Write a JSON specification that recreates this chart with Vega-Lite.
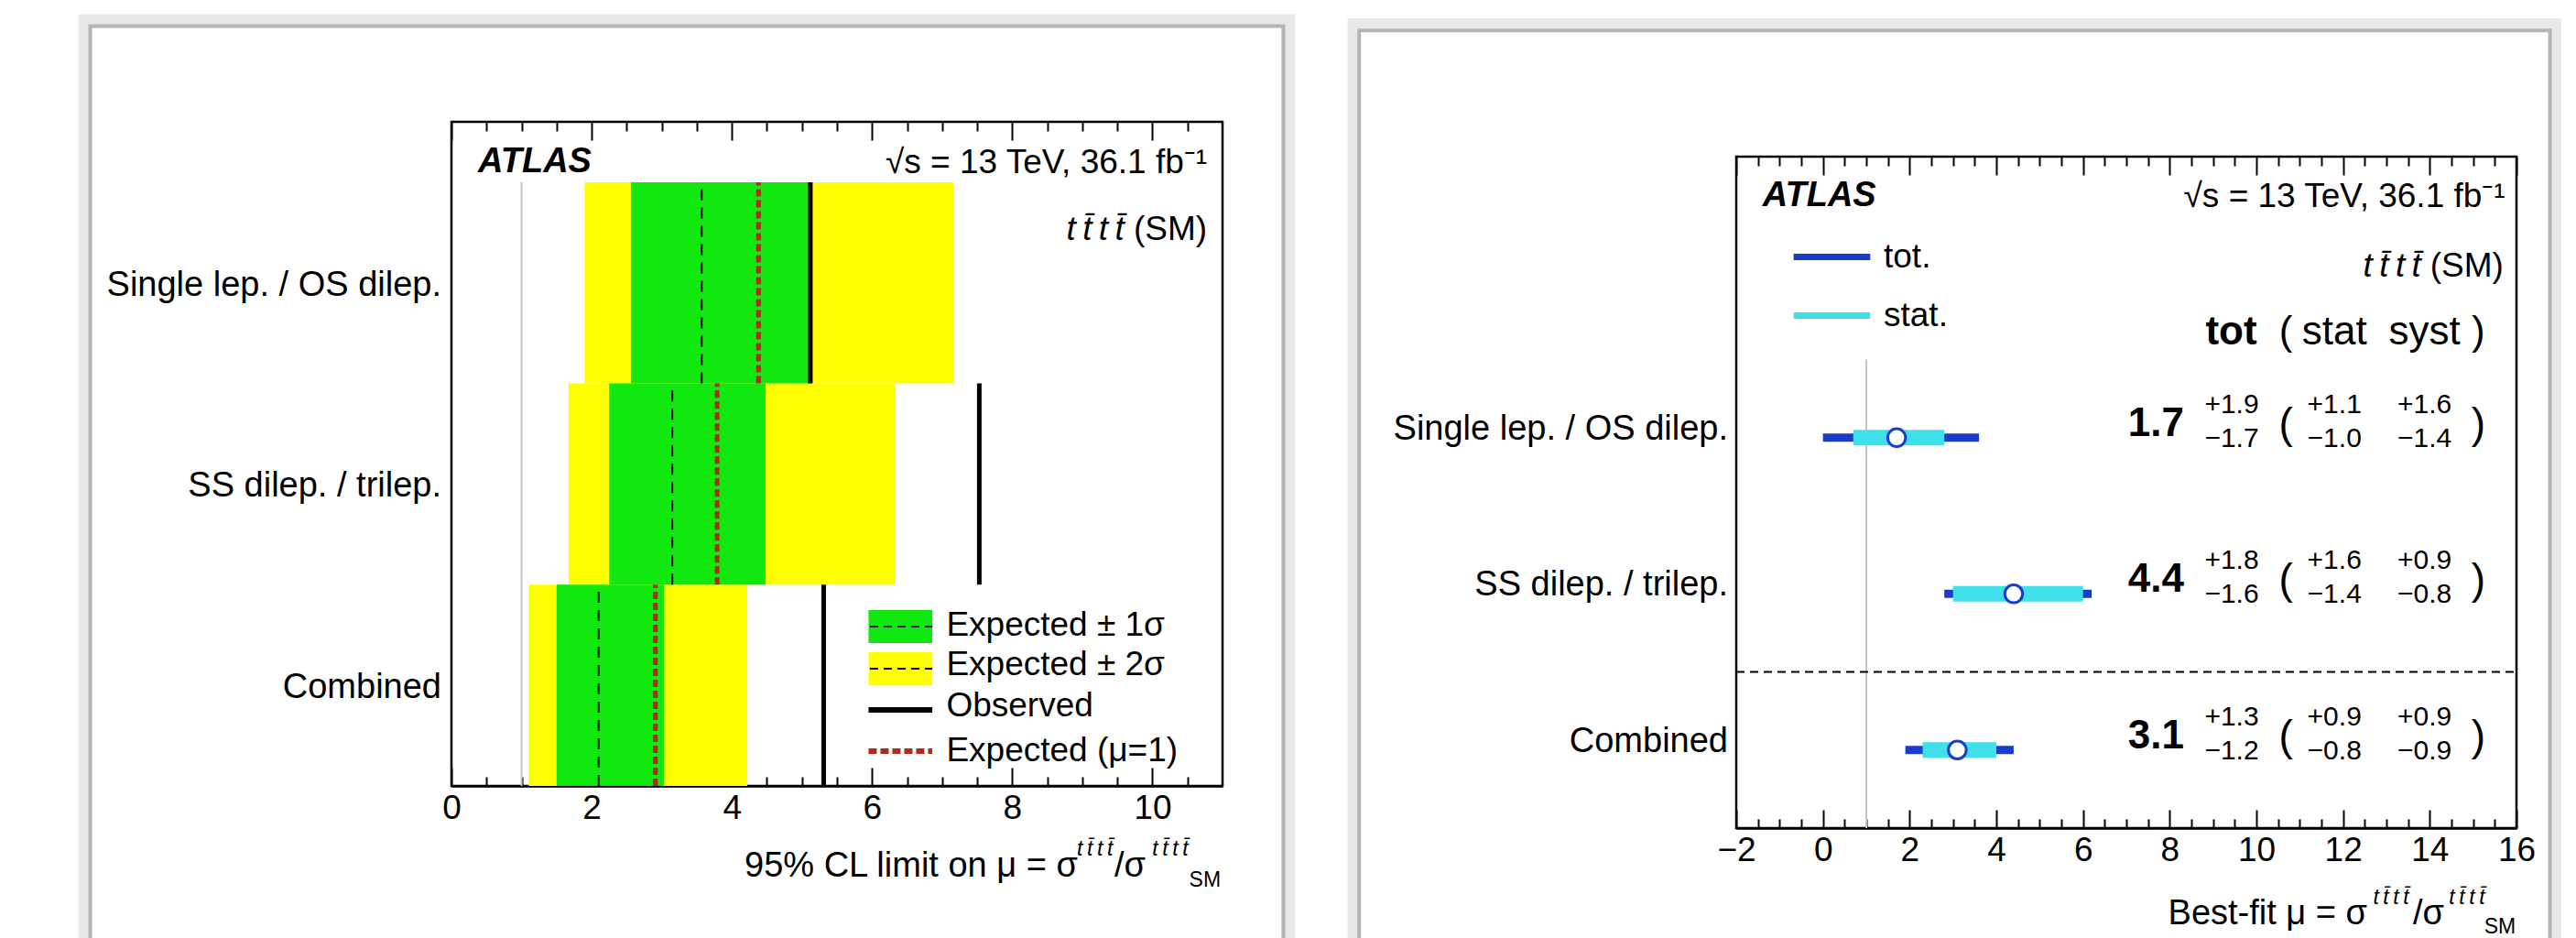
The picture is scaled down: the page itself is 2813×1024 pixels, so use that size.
{
  "$schema": "https://vega.github.io/schema/vega-lite/v6.json",
  "autosize": {"type": "none"},
  "padding": {"left": 493, "top": 133, "right": 2320, "bottom": 891},
  "background": "#ffffff",
  "config": {
    "font": "Liberation Sans",
    "view": {"stroke": "#000000", "strokeWidth": 2.5},
    "axis": {"grid": false, "domain": false, "labelFont": "Liberation Sans", "labelFontSize": 37, "labelColor": "#000000", "tickColor": "#000000", "tickWidth": 2, "labelFlush": false, "labelOverlap": false, "labelBound": false, "zindex": 1},
    "text": {"font": "Liberation Sans", "color": "#000000"}
  },
  "datasets": {
    "limits": [
      {"channel": "Single lep. / OS dilep.", "lo": 2, "hi": 3, "mid": 2.5, "m2": 1.9, "m1": 2.56, "med": 3.57, "exp1": 4.38, "p1": 5.12, "p2": 7.16, "obs": 5.12},
      {"channel": "SS dilep. / trilep.", "lo": 1, "hi": 2, "mid": 1.5, "m2": 1.67, "m1": 2.25, "med": 3.15, "exp1": 3.79, "p1": 4.48, "p2": 6.33, "obs": 7.53},
      {"channel": "Combined", "lo": 0, "hi": 1, "mid": 0.5, "m2": 1.1, "m1": 1.5, "med": 2.1, "exp1": 2.91, "p1": 3.03, "p2": 4.22, "obs": 5.31}
    ],
    "fits": [
      {"channel": "Single lep. / OS dilep.", "pos": 2.5, "mu": 1.7, "tot_up": 1.9, "tot_dn": -1.7, "stat_up": 1.1, "stat_dn": -1.0, "syst_up": 1.6, "syst_dn": -1.4, "tot_lo": 0.0, "tot_hi": 3.6, "stat_lo": 0.7, "stat_hi": 2.8},
      {"channel": "SS dilep. / trilep.", "pos": 1.5, "mu": 4.4, "tot_up": 1.8, "tot_dn": -1.6, "stat_up": 1.6, "stat_dn": -1.4, "syst_up": 0.9, "syst_dn": -0.8, "tot_lo": 2.8, "tot_hi": 6.2, "stat_lo": 3.0, "stat_hi": 6.0},
      {"channel": "Combined", "pos": 0.5, "mu": 3.1, "tot_up": 1.3, "tot_dn": -1.2, "stat_up": 0.9, "stat_dn": -0.8, "syst_up": 0.9, "syst_dn": -0.9, "tot_lo": 1.9, "tot_hi": 4.4, "stat_lo": 2.3, "stat_hi": 4.0}
    ]
  },
  "bounds": "flush",
  "spacing": 561,
  "resolve": {"scale": {"color": "independent"}, "legend": {"color": "independent"}},
  "hconcat": [
    {
      "width": 842,
      "height": 725,
      "data": {"name": "limits"},
      "resolve": {"axis": {"x": "independent"}},
      "layer": [
        {"data": {"values": [{}]}, "mark": {"type": "rect", "filled": false, "color": "#e8e8e8", "strokeWidth": 12},
         "encoding": {"x": {"datum": -5.244, "type": "quantitative", "axis": null, "scale": {"domain": [0, 11], "nice": false, "zero": false}}, "x2": {"datum": 11.96},
                      "y": {"datum": -1.3, "type": "quantitative", "axis": null, "scale": {"domain": [0, 3.3], "nice": false, "zero": false}}, "y2": {"datum": 3.807}}},
        {"data": {"values": [{}]}, "mark": {"type": "rect", "filled": false, "color": "#b4b4b4", "strokeWidth": 4},
         "encoding": {"x": {"datum": -5.153, "type": "quantitative", "axis": null}, "x2": {"datum": 11.868},
                      "y": {"datum": -1.3, "type": "quantitative", "axis": null}, "y2": {"datum": 3.776}}},
        {"data": {"values": [{}]}, "mark": {"type": "rule", "color": "#c4c4c4", "strokeWidth": 2},
         "encoding": {"x": {"datum": 1, "type": "quantitative", "axis": null},
                      "y": {"datum": 0, "type": "quantitative", "axis": null},
                      "y2": {"datum": 3}}},
        {"mark": {"type": "rect", "color": "#ffff00"},
         "encoding": {"x": {"field": "m2", "type": "quantitative", "axis": {"orient": "bottom", "values": [0, 2, 4, 6, 8, 10], "tickSize": -20, "labelPadding": 26, "title": null, "domain": true, "domainColor": "#000000", "domainWidth": 2.5}},
                      "x2": {"field": "p2"}, "y": {"field": "lo", "type": "quantitative", "axis": null}, "y2": {"field": "hi"}}},
        {"mark": {"type": "rect", "color": "#10e810"},
         "encoding": {"x": {"field": "m1", "type": "quantitative", "axis": {"orient": "bottom", "values": [0.5, 1, 1.5, 2.5, 3, 3.5, 4.5, 5, 5.5, 6.5, 7, 7.5, 8.5, 9, 9.5, 10.5], "tickSize": -10, "labels": false, "title": null}},
                      "x2": {"field": "p1"}, "y": {"field": "lo", "type": "quantitative", "axis": null}, "y2": {"field": "hi"}}},
        {"mark": {"type": "rule", "color": "#000000", "strokeWidth": 2, "strokeDash": [12, 8]},
         "encoding": {"x": {"field": "med", "type": "quantitative", "axis": {"orient": "top", "values": [0, 2, 4, 6, 8, 10], "tickSize": -20, "labels": false, "title": null}},
                      "y": {"field": "lo", "type": "quantitative", "axis": null}, "y2": {"field": "hi"}}},
        {"mark": {"type": "rule", "color": "#b22a1e", "strokeWidth": 5, "strokeDash": [8, 4]},
         "encoding": {"x": {"field": "exp1", "type": "quantitative", "axis": {"orient": "top", "values": [0.5, 1, 1.5, 2.5, 3, 3.5, 4.5, 5, 5.5, 6.5, 7, 7.5, 8.5, 9, 9.5, 10.5], "tickSize": -10, "labels": false, "title": null}},
                      "y": {"field": "lo", "type": "quantitative", "axis": null}, "y2": {"field": "hi"}}},
        {"mark": {"type": "rule", "color": "#000000", "strokeWidth": 5},
         "encoding": {"x": {"field": "obs", "type": "quantitative", "axis": null},
                      "y": {"field": "lo", "type": "quantitative", "axis": null}, "y2": {"field": "hi"}}},
        {"mark": {"type": "text", "align": "right", "baseline": "middle", "fontSize": 38, "dx": -11, "dy": 3},
         "encoding": {"x": {"datum": 0, "type": "quantitative", "axis": null}, "y": {"field": "mid", "type": "quantitative", "axis": null}, "text": {"field": "channel"}}},
        {"data": {"values": [{}]}, "mark": {"type": "text", "text": "ATLAS", "align": "left", "baseline": "middle", "fontSize": 38, "fontWeight": "bold", "fontStyle": "italic"},
         "encoding": {"x": {"datum": 0.38, "type": "quantitative", "axis": null}, "y": {"datum": 3.1, "type": "quantitative", "axis": null}}},
        {"data": {"values": [{}]}, "mark": {"type": "text", "text": "√s = 13 TeV, 36.1 fb⁻¹", "align": "right", "baseline": "middle", "fontSize": 37},
         "encoding": {"x": {"datum": 10.78, "type": "quantitative", "axis": null}, "y": {"datum": 3.095, "type": "quantitative", "axis": null}}},
        {"data": {"values": [{}]}, "mark": {"type": "text", "text": "t\u2009t\u0304\u2009t\u2009t\u0304", "align": "right", "baseline": "middle", "fontSize": 37, "fontStyle": "italic"},
         "encoding": {"x": {"datum": 9.6, "type": "quantitative", "axis": null}, "y": {"datum": 2.763, "type": "quantitative", "axis": null}}},
        {"data": {"values": [{}]}, "mark": {"type": "text", "text": "(SM)", "align": "right", "baseline": "middle", "fontSize": 37},
         "encoding": {"x": {"datum": 10.78, "type": "quantitative", "axis": null}, "y": {"datum": 2.763, "type": "quantitative", "axis": null}}},
        {"data": {"values": [{}]}, "mark": {"type": "rect", "color": "#10e810"},
         "encoding": {"x": {"datum": 5.95, "type": "quantitative", "axis": null}, "x2": {"datum": 6.86}, "y": {"datum": 0.71, "type": "quantitative", "axis": null}, "y2": {"datum": 0.874}}},
        {"data": {"values": [{}]}, "mark": {"type": "rect", "color": "#ffff00"},
         "encoding": {"x": {"datum": 5.95, "type": "quantitative", "axis": null}, "x2": {"datum": 6.86}, "y": {"datum": 0.5, "type": "quantitative", "axis": null}, "y2": {"datum": 0.665}}},
        {"data": {"values": [{}]}, "mark": {"type": "rule", "color": "#000000", "strokeWidth": 2, "strokeDash": [9, 6]},
         "encoding": {"x": {"datum": 5.97, "type": "quantitative", "axis": null}, "x2": {"datum": 6.86}, "y": {"datum": 0.792, "type": "quantitative", "axis": null}}},
        {"data": {"values": [{}]}, "mark": {"type": "rule", "color": "#000000", "strokeWidth": 2, "strokeDash": [9, 6]},
         "encoding": {"x": {"datum": 5.97, "type": "quantitative", "axis": null}, "x2": {"datum": 6.86}, "y": {"datum": 0.583, "type": "quantitative", "axis": null}}},
        {"data": {"values": [{}]}, "mark": {"type": "rule", "color": "#000000", "strokeWidth": 6},
         "encoding": {"x": {"datum": 5.95, "type": "quantitative", "axis": null}, "x2": {"datum": 6.86}, "y": {"datum": 0.378, "type": "quantitative", "axis": null}}},
        {"data": {"values": [{}]}, "mark": {"type": "rule", "color": "#b22a1e", "strokeWidth": 6, "strokeDash": [9, 4]},
         "encoding": {"x": {"datum": 5.95, "type": "quantitative", "axis": null}, "x2": {"datum": 6.86}, "y": {"datum": 0.173, "type": "quantitative", "axis": null}}},
        {"data": {"values": [{}]}, "mark": {"type": "text", "text": "Expected ± 1σ", "align": "left", "baseline": "middle", "fontSize": 37},
         "encoding": {"x": {"datum": 7.06, "type": "quantitative", "axis": null}, "y": {"datum": 0.798, "type": "quantitative", "axis": null}}},
        {"data": {"values": [{}]}, "mark": {"type": "text", "text": "Expected ± 2σ", "align": "left", "baseline": "middle", "fontSize": 37},
         "encoding": {"x": {"datum": 7.06, "type": "quantitative", "axis": null}, "y": {"datum": 0.6, "type": "quantitative", "axis": null}}},
        {"data": {"values": [{}]}, "mark": {"type": "text", "text": "Observed", "align": "left", "baseline": "middle", "fontSize": 37},
         "encoding": {"x": {"datum": 7.06, "type": "quantitative", "axis": null}, "y": {"datum": 0.396, "type": "quantitative", "axis": null}}},
        {"data": {"values": [{}]}, "mark": {"type": "text", "text": "Expected (μ=1)", "align": "left", "baseline": "middle", "fontSize": 37},
         "encoding": {"x": {"datum": 7.06, "type": "quantitative", "axis": null}, "y": {"datum": 0.173, "type": "quantitative", "axis": null}}},
        {"data": {"values": [{}]}, "mark": {"type": "text", "text": "95% CL limit on μ = σ", "align": "right", "baseline": "middle", "fontSize": 38},
         "encoding": {"x": {"datum": 8.935, "type": "quantitative", "axis": null}, "y": {"datum": -0.4, "type": "quantitative", "axis": null}}},
        {"data": {"values": [{}]}, "mark": {"type": "text", "text": "t\u2009t\u0304\u2009t\u2009t\u0304", "align": "center", "baseline": "middle", "fontSize": 23, "fontStyle": "italic"},
         "encoding": {"x": {"datum": 9.18, "type": "quantitative", "axis": null}, "y": {"datum": -0.314, "type": "quantitative", "axis": null}}},
        {"data": {"values": [{}]}, "mark": {"type": "text", "text": "/σ", "align": "center", "baseline": "middle", "fontSize": 38},
         "encoding": {"x": {"datum": 9.68, "type": "quantitative", "axis": null}, "y": {"datum": -0.4, "type": "quantitative", "axis": null}}},
        {"data": {"values": [{}]}, "mark": {"type": "text", "text": "t\u2009t\u0304\u2009t\u2009t\u0304", "align": "center", "baseline": "middle", "fontSize": 23, "fontStyle": "italic"},
         "encoding": {"x": {"datum": 10.255, "type": "quantitative", "axis": null}, "y": {"datum": -0.314, "type": "quantitative", "axis": null}}},
        {"data": {"values": [{}]}, "mark": {"type": "text", "text": "SM", "align": "center", "baseline": "middle", "fontSize": 23},
         "encoding": {"x": {"datum": 10.75, "type": "quantitative", "axis": null}, "y": {"datum": -0.469, "type": "quantitative", "axis": null}}}
      ]
    },
    {
      "bounds": "flush",
      "spacing": 37,
      "resolve": {"scale": {"color": "independent"}, "legend": {"color": "independent"}},
      "vconcat": [
        {"width": 1, "height": 1, "view": {"stroke": null}, "data": {"values": [{}]}, "mark": {"type": "rule", "opacity": 0}, "encoding": {}},
        {
          "width": 852,
          "height": 733,
          "data": {"name": "fits"},
          "resolve": {"axis": {"x": "independent"}},
          "layer": [
            {"data": {"values": [{}]}, "mark": {"type": "rect", "filled": false, "color": "#e8e8e8", "strokeWidth": 12},
             "encoding": {"x": {"datum": -10.84, "type": "quantitative", "axis": null, "scale": {"domain": [-2, 16], "nice": false, "zero": false}}, "x2": {"datum": 16.91},
                          "y": {"datum": -1.3, "type": "quantitative", "axis": null, "scale": {"domain": [0, 4.3], "nice": false, "zero": false}}, "y2": {"datum": 5.149}}},
            {"data": {"values": [{}]}, "mark": {"type": "rect", "filled": false, "color": "#b4b4b4", "strokeWidth": 4},
             "encoding": {"x": {"datum": -10.70, "type": "quantitative", "axis": null}, "x2": {"datum": 16.772},
                          "y": {"datum": -1.3, "type": "quantitative", "axis": null}, "y2": {"datum": 5.108}}},
            {"data": {"values": [{}]}, "mark": {"type": "rule", "color": "#c4c4c4", "strokeWidth": 2},
             "encoding": {"x": {"datum": 1, "type": "quantitative", "axis": null},
                          "y": {"datum": 0, "type": "quantitative", "axis": null},
                          "y2": {"datum": 3}}},
            {"data": {"values": [{}]}, "mark": {"type": "rule", "color": "#000000", "strokeWidth": 2, "strokeDash": [9, 6]},
             "encoding": {"x": {"datum": -2, "type": "quantitative", "axis": null}, "x2": {"datum": 16}, "y": {"datum": 1, "type": "quantitative", "axis": null}}},
            {"mark": {"type": "rule", "strokeWidth": 9},
             "encoding": {"x": {"field": "tot_lo", "type": "quantitative", "axis": {"orient": "bottom", "values": [-2, 0, 2, 4, 6, 8, 10, 12, 14, 16], "tickSize": -20, "labelPadding": 26, "title": null, "domain": true, "domainColor": "#000000", "domainWidth": 2.5}},
                          "x2": {"field": "tot_hi"}, "y": {"field": "pos", "type": "quantitative", "axis": null},
                          "color": {"datum": "tot.", "scale": {"domain": ["tot.", "stat."], "range": ["#1a3ccc", "#3fe0ea"]},
                                    "legend": {"orient": "none", "legendX": 59, "legendY": 64, "title": null, "symbolType": "stroke", "symbolSize": 7000, "symbolStrokeWidth": 7, "labelFontSize": 37, "labelFont": "Liberation Sans", "labelColor": "#000000", "rowPadding": -33, "labelOffset": 11, "padding": 0}}}},
            {"mark": {"type": "rule", "strokeWidth": 17},
             "encoding": {"x": {"field": "stat_lo", "type": "quantitative", "axis": {"orient": "bottom", "values": [-1.5, -1, -0.5, 0.5, 1, 1.5, 2.5, 3, 3.5, 4.5, 5, 5.5, 6.5, 7, 7.5, 8.5, 9, 9.5, 10.5, 11, 11.5, 12.5, 13, 13.5, 14.5, 15, 15.5], "tickSize": -10, "labels": false, "title": null}},
                          "x2": {"field": "stat_hi"}, "y": {"field": "pos", "type": "quantitative", "axis": null},
                          "color": {"datum": "stat."}}},
            {"mark": {"type": "point", "shape": "circle", "filled": true, "fill": "#ffffff", "stroke": "#1a3ccc", "strokeWidth": 3, "size": 380, "opacity": 1},
             "encoding": {"x": {"field": "mu", "type": "quantitative", "axis": {"orient": "top", "values": [-2, 0, 2, 4, 6, 8, 10, 12, 14, 16], "tickSize": -20, "labels": false, "title": null}},
                          "y": {"field": "pos", "type": "quantitative", "axis": null}}},
            {"mark": {"type": "text", "align": "right", "baseline": "middle", "fontSize": 38, "dx": -9, "dy": -9},
             "encoding": {"x": {"datum": -2, "type": "quantitative", "axis": {"orient": "top", "values": [-1.5, -1, -0.5, 0.5, 1, 1.5, 2.5, 3, 3.5, 4.5, 5, 5.5, 6.5, 7, 7.5, 8.5, 9, 9.5, 10.5, 11, 11.5, 12.5, 13, 13.5, 14.5, 15, 15.5], "tickSize": -10, "labels": false, "title": null}},
                          "y": {"field": "pos", "type": "quantitative", "axis": null}, "text": {"field": "channel"}}},
            {"mark": {"type": "text", "align": "right", "baseline": "middle", "fontSize": 44, "fontWeight": "bold", "dy": -15},
             "encoding": {"x": {"datum": 8.33, "type": "quantitative", "axis": null}, "y": {"field": "pos", "type": "quantitative", "axis": null}, "text": {"field": "mu", "type": "quantitative", "format": ".1f"}}},
            {"mark": {"type": "text", "align": "center", "baseline": "middle", "fontSize": 30, "dy": -36},
             "encoding": {"x": {"datum": 9.43, "type": "quantitative", "axis": null}, "y": {"field": "pos", "type": "quantitative", "axis": null}, "text": {"field": "tot_up", "type": "quantitative", "format": "+.1f"}}},
            {"mark": {"type": "text", "align": "center", "baseline": "middle", "fontSize": 30, "dy": 1},
             "encoding": {"x": {"datum": 9.43, "type": "quantitative", "axis": null}, "y": {"field": "pos", "type": "quantitative", "axis": null}, "text": {"field": "tot_dn", "type": "quantitative", "format": ".1f"}}},
            {"mark": {"type": "text", "text": "(", "align": "center", "baseline": "middle", "fontSize": 46, "dy": -14},
             "encoding": {"x": {"datum": 10.68, "type": "quantitative", "axis": null}, "y": {"field": "pos", "type": "quantitative", "axis": null}}},
            {"mark": {"type": "text", "align": "center", "baseline": "middle", "fontSize": 30, "dy": -36},
             "encoding": {"x": {"datum": 11.8, "type": "quantitative", "axis": null}, "y": {"field": "pos", "type": "quantitative", "axis": null}, "text": {"field": "stat_up", "type": "quantitative", "format": "+.1f"}}},
            {"mark": {"type": "text", "align": "center", "baseline": "middle", "fontSize": 30, "dy": 1},
             "encoding": {"x": {"datum": 11.8, "type": "quantitative", "axis": null}, "y": {"field": "pos", "type": "quantitative", "axis": null}, "text": {"field": "stat_dn", "type": "quantitative", "format": ".1f"}}},
            {"mark": {"type": "text", "align": "center", "baseline": "middle", "fontSize": 30, "dy": -36},
             "encoding": {"x": {"datum": 13.88, "type": "quantitative", "axis": null}, "y": {"field": "pos", "type": "quantitative", "axis": null}, "text": {"field": "syst_up", "type": "quantitative", "format": "+.1f"}}},
            {"mark": {"type": "text", "align": "center", "baseline": "middle", "fontSize": 30, "dy": 1},
             "encoding": {"x": {"datum": 13.88, "type": "quantitative", "axis": null}, "y": {"field": "pos", "type": "quantitative", "axis": null}, "text": {"field": "syst_dn", "type": "quantitative", "format": ".1f"}}},
            {"mark": {"type": "text", "text": ")", "align": "center", "baseline": "middle", "fontSize": 46, "dy": -14},
             "encoding": {"x": {"datum": 15.12, "type": "quantitative", "axis": null}, "y": {"field": "pos", "type": "quantitative", "axis": null}}},
            {"data": {"values": [{}]}, "mark": {"type": "text", "text": "tot", "align": "center", "baseline": "middle", "fontSize": 44, "fontWeight": "bold"},
             "encoding": {"x": {"datum": 9.42, "type": "quantitative", "axis": null}, "y": {"datum": 3.176, "type": "quantitative", "axis": null}}},
            {"data": {"values": [{}]}, "mark": {"type": "text", "text": "(", "align": "center", "baseline": "middle", "fontSize": 44},
             "encoding": {"x": {"datum": 10.68, "type": "quantitative", "axis": null}, "y": {"datum": 3.176, "type": "quantitative", "axis": null}}},
            {"data": {"values": [{}]}, "mark": {"type": "text", "text": "stat", "align": "center", "baseline": "middle", "fontSize": 44},
             "encoding": {"x": {"datum": 11.8, "type": "quantitative", "axis": null}, "y": {"datum": 3.176, "type": "quantitative", "axis": null}}},
            {"data": {"values": [{}]}, "mark": {"type": "text", "text": "syst", "align": "center", "baseline": "middle", "fontSize": 44},
             "encoding": {"x": {"datum": 13.88, "type": "quantitative", "axis": null}, "y": {"datum": 3.176, "type": "quantitative", "axis": null}}},
            {"data": {"values": [{}]}, "mark": {"type": "text", "text": ")", "align": "center", "baseline": "middle", "fontSize": 44},
             "encoding": {"x": {"datum": 15.12, "type": "quantitative", "axis": null}, "y": {"datum": 3.176, "type": "quantitative", "axis": null}}},
            {"data": {"values": [{}]}, "mark": {"type": "text", "text": "ATLAS", "align": "left", "baseline": "middle", "fontSize": 38, "fontWeight": "bold", "fontStyle": "italic"},
             "encoding": {"x": {"datum": -1.39, "type": "quantitative", "axis": null}, "y": {"datum": 4.05, "type": "quantitative", "axis": null}}},
            {"data": {"values": [{}]}, "mark": {"type": "text", "text": "√s = 13 TeV, 36.1 fb⁻¹", "align": "right", "baseline": "middle", "fontSize": 37},
             "encoding": {"x": {"datum": 15.74, "type": "quantitative", "axis": null}, "y": {"datum": 4.04, "type": "quantitative", "axis": null}}},
            {"data": {"values": [{}]}, "mark": {"type": "text", "text": "t\u2009t\u0304\u2009t\u2009t\u0304", "align": "right", "baseline": "middle", "fontSize": 37, "fontStyle": "italic"},
             "encoding": {"x": {"datum": 13.8, "type": "quantitative", "axis": null}, "y": {"datum": 3.595, "type": "quantitative", "axis": null}}},
            {"data": {"values": [{}]}, "mark": {"type": "text", "text": "(SM)", "align": "right", "baseline": "middle", "fontSize": 37},
             "encoding": {"x": {"datum": 15.7, "type": "quantitative", "axis": null}, "y": {"datum": 3.595, "type": "quantitative", "axis": null}}},
            {"data": {"values": [{}]}, "mark": {"type": "text", "text": "Best-fit μ = σ", "align": "right", "baseline": "middle", "fontSize": 38},
             "encoding": {"x": {"datum": 12.557, "type": "quantitative", "axis": null}, "y": {"datum": -0.551, "type": "quantitative", "axis": null}}},
            {"data": {"values": [{}]}, "mark": {"type": "text", "text": "t\u2009t\u0304\u2009t\u2009t\u0304", "align": "center", "baseline": "middle", "fontSize": 23, "fontStyle": "italic"},
             "encoding": {"x": {"datum": 13.107, "type": "quantitative", "axis": null}, "y": {"datum": -0.446, "type": "quantitative", "axis": null}}},
            {"data": {"values": [{}]}, "mark": {"type": "text", "text": "/σ", "align": "center", "baseline": "middle", "fontSize": 38},
             "encoding": {"x": {"datum": 13.97, "type": "quantitative", "axis": null}, "y": {"datum": -0.551, "type": "quantitative", "axis": null}}},
            {"data": {"values": [{}]}, "mark": {"type": "text", "text": "t\u2009t\u0304\u2009t\u2009t\u0304", "align": "center", "baseline": "middle", "fontSize": 23, "fontStyle": "italic"},
             "encoding": {"x": {"datum": 14.86, "type": "quantitative", "axis": null}, "y": {"datum": -0.446, "type": "quantitative", "axis": null}}},
            {"data": {"values": [{}]}, "mark": {"type": "text", "text": "SM", "align": "center", "baseline": "middle", "fontSize": 23},
             "encoding": {"x": {"datum": 15.62, "type": "quantitative", "axis": null}, "y": {"datum": -0.633, "type": "quantitative", "axis": null}}}
          ]
        }
      ]
    }
  ]
}
